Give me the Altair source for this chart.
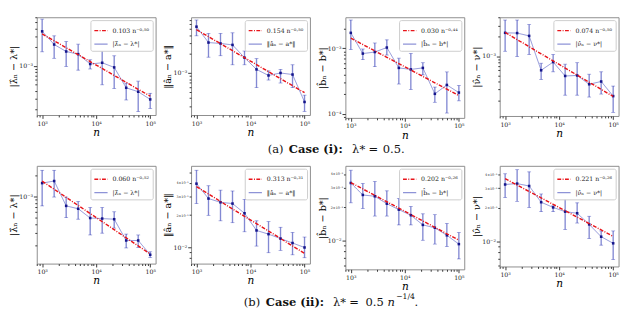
import altair as alt
import numpy as np
import pandas as pd

FONT = "DejaVu Serif"

N = [1000, 1668, 2783, 4642, 7743, 12915, 21544, 35938, 59948, 100000]

# ---- Case (i) ----
LAM_I_MEAN = [3.58e-3, 2.20e-3, 1.70e-3, 1.54e-3, 1.07e-3, 1.12e-3, 0.944e-3, 0.444e-3, 0.384e-3, 0.289e-3]
LAM_I_LO = [1.68e-3, 1.32e-3, 0.977e-3, 0.853e-3, 0.89e-3, 0.496e-3, 0.433e-3, 0.283e-3, 0.184e-3, 0.206e-3]
LAM_I_HI = [5.62e-3, 3.03e-3, 2.47e-3, 2.23e-3, 1.25e-3, 1.76e-3, 1.45e-3, 0.526e-3, 0.568e-3, 0.362e-3]

A_I_MEAN = [5.43e-3, 3.04e-3, 2.94e-3, 2.79e-3, 1.75e-3, 1.14e-3, 0.914e-3, 1.0e-3, 0.945e-3, 0.347e-3]
A_I_LO = [3.89e-3, 1.78e-3, 1.88e-3, 1.35e-3, 1.35e-3, 0.586e-3, 0.773e-3, 0.693e-3, 0.586e-3, 0.246e-3]
A_I_HI = [6.93e-3, 4.24e-3, 4.24e-3, 4.34e-3, 2.23e-3, 1.69e-3, 1.08e-3, 1.14e-3, 1.35e-3, 0.445e-3]

B_I_MEAN = [1.73e-3, 0.832e-3, 0.879e-3, 1.03e-3, 0.502e-3, 0.476e-3, 0.502e-3, 0.201e-3, 0.275e-3, 0.21e-3]
B_I_LO = [0.959e-3, 0.672e-3, 0.525e-3, 0.79e-3, 0.284e-3, 0.234e-3, 0.392e-3, 0.149e-3, 0.102e-3, 0.157e-3]
B_I_HI = [2.72e-3, 0.978e-3, 1.21e-3, 1.35e-3, 0.708e-3, 0.832e-3, 0.603e-3, 0.255e-3, 0.436e-3, 0.269e-3]

NU_I_MEAN = [2.31e-3, 2.29e-3, 2.07e-3, 0.60e-3, 0.807e-3, 0.489e-3, 0.498e-3, 0.363e-3, 0.401e-3, 0.237e-3]
NU_I_LO = [1.19e-3, 0.984e-3, 1.06e-3, 0.432e-3, 0.568e-3, 0.245e-3, 0.245e-3, 0.229e-3, 0.255e-3, 0.132e-3]
NU_I_HI = [3.66e-3, 3.66e-3, 3.11e-3, 0.774e-3, 1.06e-3, 0.748e-3, 0.789e-3, 0.521e-3, 0.568e-3, 0.34e-3]

# ---- Case (ii) ----
LAM_II_MEAN = [1.55e-3, 1.66e-3, 0.733e-3, 0.667e-3, 0.492e-3, 0.483e-3, 0.473e-3, 0.235e-3, 0.235e-3, 0.147e-3]
LAM_II_LO = [0.733e-3, 0.98e-3, 0.497e-3, 0.473e-3, 0.282e-3, 0.299e-3, 0.353e-3, 0.184e-3, 0.187e-3, 0.134e-3]
LAM_II_HI = [2.36e-3, 2.36e-3, 0.98e-3, 0.849e-3, 0.698e-3, 0.698e-3, 0.604e-3, 0.29e-3, 0.282e-3, 0.162e-3]

A_II_MEAN = [0.0392, 0.0285, 0.0263, 0.0256, 0.0208, 0.0144, 0.0133, 0.0121, 0.0110, 0.0100]
A_II_LO = [0.0256, 0.0199, 0.0177, 0.0170, 0.0140, 0.0103, 0.00894, 0.0094, 0.00855, 0.00803]
A_II_HI = [0.0522, 0.0375, 0.0341, 0.0335, 0.028, 0.0177, 0.0174, 0.0154, 0.0138, 0.0125]

B_II_MEAN = [0.0332, 0.0259, 0.0252, 0.0216, 0.0191, 0.0170, 0.0139, 0.0131, 0.0112, 0.00933]
B_II_LO = [0.022, 0.0195, 0.0167, 0.0167, 0.0139, 0.0139, 0.0101, 0.00933, 0.00887, 0.00686]
B_II_HI = [0.0433, 0.0328, 0.0342, 0.0282, 0.0241, 0.0204, 0.0175, 0.0172, 0.0143, 0.0119]

NU_II_MEAN = [0.0325, 0.0331, 0.0315, 0.0225, 0.0202, 0.0185, 0.0179, 0.0142, 0.011, 0.00959]
NU_II_LO = [0.0248, 0.0229, 0.0202, 0.0185, 0.0185, 0.0128, 0.0146, 0.0106, 0.00923, 0.00684]
NU_II_HI = [0.0406, 0.0442, 0.0423, 0.0267, 0.0209, 0.0243, 0.0222, 0.0168, 0.0124, 0.0124]

# fitted rates: (coefficient, exponent)
FITS_I = [(0.103, -0.50), (0.154, -0.50), (0.030, -0.44), (0.074, -0.50)]
FITS_II = [(0.060, -0.52), (0.313, -0.31), (0.202, -0.26), (0.221, -0.26)]

YTITLES = ["|λ̂ₙ − λ*|", "‖âₙ − a*‖", "|b̂ₙ − b*|", "|ν̂ₙ − ν*|"]

# y ranges (log10)
YDOM_I = [(-3.79, -2.22), (-3.667, -2.116), (-4.066, -2.523), (-3.936, -2.393)]
YDOM_II = [(-3.959, -2.563), (-2.15, -1.241), (-2.258, -1.324), (-2.227, -1.32)]
MINOR_LABELS_II = [False, True, True, True]

W = 124
H_I = [102, 102, 105, 103]
H_II = [102, 102, 108, 105]

SUP = {"-": "⁻", "0": "⁰", "1": "¹", "2": "²", "3": "³", "4": "⁴",
       "5": "⁵", "6": "⁶", "7": "⁷", "8": "⁸", "9": "⁹", ".": "·"}


def sup(s):
    return "".join(SUP[c] for c in s)


DECADE_TEST = "abs(log(datum.value)/LN10 - round(log(datum.value)/LN10)) < 1e-6"


def build_expr(pairs):
    parts = [f"datum.value == {v!r} ? '{lab}'" for v, lab in pairs]
    return " : ".join(parts) + " : ''"


def x_axis():
    vals = []
    for e in (2, 3, 4, 5):
        for k in range(1, 10):
            v = k * 10 ** e
            if 10 ** 2.9 <= v <= 10 ** 5.1:
                vals.append(v)
    pairs = [(10 ** e, "10" + sup(str(e))) for e in (3, 4, 5)]
    return alt.Axis(values=vals, labelExpr=build_expr(pairs), title="n",
                    titleFont=FONT, titleFontStyle="italic", titleFontWeight="normal",
                    titleFontSize=11, titlePadding=0, labelFont=FONT, labelFontSize=6.5,
                    labelColor="#222", labelPadding=2, domain=False, grid=False,
                    tickColor="#333", labelOverlap=False,
                    tickSize={"condition": {"test": DECADE_TEST, "value": 3.5}, "value": 2})


def y_axis(lo, hi, title, minor_labels):
    vals, pairs = [], []
    for e in range(int(np.floor(lo)) - 1, int(np.ceil(hi)) + 1):
        for k in range(1, 10):
            v = round(k * 10.0 ** e, 12)
            if 10 ** lo <= v <= 10 ** hi:
                vals.append(v)
                if k == 1:
                    pairs.append((v, "10" + sup(str(e))))
                elif minor_labels and k in (2, 3, 4):
                    pairs.append((v, f"{k}×10" + sup(str(e))))
    return alt.Axis(values=vals, labelExpr=build_expr(pairs), title=title,
                    titleFont=FONT, titleFontWeight="normal", titleFontSize=10,
                    titlePadding=2, labelFont=FONT, labelColor="#222",
                    labelFontSize={"condition": {"test": DECADE_TEST, "value": 6.5}, "value": 3.5},
                    labelPadding=1, domain=False, grid=False, tickColor="#333",
                    labelOverlap=False, minExtent=17, maxExtent=17,
                    tickSize={"condition": {"test": DECADE_TEST, "value": 3.5}, "value": 2})


def panel(mean, lo, hi, fit, ytitle, ydom, h, minor_labels):
    coef, expo = fit
    fitlabel = f"{coef:.3f} n" + sup(f"{expo:.2f}")
    n = np.array(N, dtype=float)
    df = pd.DataFrame({"n": N, "mean": mean, "lo": lo, "hi": hi, "s": ytitle})
    fit_df = pd.DataFrame({"n": N, "mean": coef * n ** expo, "s": fitlabel})

    xs = alt.Scale(type="log", domain=[10 ** 2.9, 10 ** 5.1], nice=False)
    ys = alt.Scale(type="log", domain=[10 ** ydom[0], 10 ** ydom[1]], nice=False)
    x = alt.X("n:Q", scale=xs, axis=x_axis())
    y = alt.Y("mean:Q", scale=ys, axis=y_axis(ydom[0], ydom[1], ytitle, minor_labels))

    color = alt.Color("s:N", scale=alt.Scale(domain=[fitlabel, ytitle],
                                             range=["#e8141a", "rgba(30,40,175,0.5)"]),
                      legend=alt.Legend(title=None, orient="top-right", offset=3, padding=3,
                                        fillColor="white", strokeColor="#cccccc",
                                        cornerRadius=2, labelFont=FONT, labelFontSize=6.5,
                                        labelColor="#222", symbolType="stroke",
                                        symbolSize=190, symbolStrokeWidth=1.4,
                                        rowPadding=2, labelOffset=4, labelLimit=120))
    dash = alt.StrokeDash("s:N", scale=alt.Scale(domain=[fitlabel, ytitle],
                                                 range=[[4, 1.5, 1, 1.5], [1, 0]]),
                          legend=None)

    ebar = alt.Chart(df).mark_rule(color="rgba(30,40,175,0.55)", strokeWidth=1.4).encode(
        x=x, y=alt.Y("lo:Q", scale=ys), y2="hi:Q")
    cap_lo = alt.Chart(df).mark_tick(color="rgba(30,40,175,0.7)", orient="horizontal",
                                     size=4, thickness=0.8).encode(x=x, y=alt.Y("lo:Q", scale=ys))
    cap_hi = alt.Chart(df).mark_tick(color="rgba(30,40,175,0.7)", orient="horizontal",
                                     size=4, thickness=0.8).encode(x=x, y=alt.Y("hi:Q", scale=ys))
    dline = alt.Chart(df).mark_line(strokeWidth=1).encode(x=x, y=y, color=color, strokeDash=dash)
    pts = alt.Chart(df).mark_point(filled=True, shape="square", size=7, color="#14148a",
                                   opacity=1).encode(x=x, y=alt.Y("mean:Q", scale=ys))
    fline = alt.Chart(fit_df).mark_line(strokeWidth=1.5).encode(
        x=x, y=alt.Y("mean:Q", scale=ys), color=color, strokeDash=dash)

    return alt.layer(ebar, cap_lo, cap_hi, dline, pts, fline).properties(
        width=W, height=h, view=alt.ViewBackground(stroke="#8a8a8a", strokeWidth=1))


def row(means, los, his, fits, doms, hs, minors):
    panels = [panel(means[i], los[i], his[i], fits[i], YTITLES[i], doms[i], hs[i], minors[i])
              for i in range(4)]
    return alt.hconcat(*panels, spacing=6).resolve_scale(
        x="independent", y="independent", color="independent", strokeDash="independent")


def caption(pieces):
    layers = []
    for txt, xpos, weight, size, style, dy in pieces:
        layers.append(alt.Chart(alt.Data(values=[{}])).mark_text(
            text=txt, align="left", baseline="middle", font=FONT, fontSize=size,
            fontWeight=weight, fontStyle=style, dy=dy, color="#111").encode(
            x=alt.value(xpos), y=alt.value(8)))
    return alt.layer(*layers).properties(
        width=620, height=15, view=alt.ViewBackground(stroke="transparent"))


row1 = row([LAM_I_MEAN, A_I_MEAN, B_I_MEAN, NU_I_MEAN],
           [LAM_I_LO, A_I_LO, B_I_LO, NU_I_LO],
           [LAM_I_HI, A_I_HI, B_I_HI, NU_I_HI],
           FITS_I, YDOM_I, H_I, [False] * 4)
row2 = row([LAM_II_MEAN, A_II_MEAN, B_II_MEAN, NU_II_MEAN],
           [LAM_II_LO, A_II_LO, B_II_LO, NU_II_LO],
           [LAM_II_HI, A_II_HI, B_II_HI, NU_II_HI],
           FITS_II, YDOM_II, H_II, MINOR_LABELS_II)

cap1 = caption([("(a)", 241, "normal", 12, "normal", 0),
                ("Case (i):", 263, "bold", 12, "normal", 0),
                ("λ*", 329, "normal", 12, "normal", 0),
                ("=", 346, "normal", 12, "normal", 0),
                ("0.5.", 361, "normal", 12, "normal", 0)])
cap2 = caption([("(b)", 216, "normal", 12, "normal", 0),
                ("Case (ii):", 239, "bold", 12, "normal", 0),
                ("λ*", 309, "normal", 12, "normal", 0),
                ("=", 326, "normal", 12, "normal", 0),
                ("0.5", 343, "normal", 12, "normal", 0),
                ("n", 366, "normal", 12, "italic", 0),
                ("−1/4", 375, "normal", 8, "normal", -5),
                (".", 394, "normal", 12, "normal", 0)])

chart = alt.vconcat(
    alt.vconcat(row1, cap1, spacing=0),
    alt.vconcat(row2, cap2, spacing=0),
    spacing=8,
).resolve_scale(color="independent", strokeDash="independent").properties(
    padding=0, background="white"
).configure_view(stroke="#8a8a8a")

chart.save("out.html", embed_options={"renderer": "svg", "actions": False})
